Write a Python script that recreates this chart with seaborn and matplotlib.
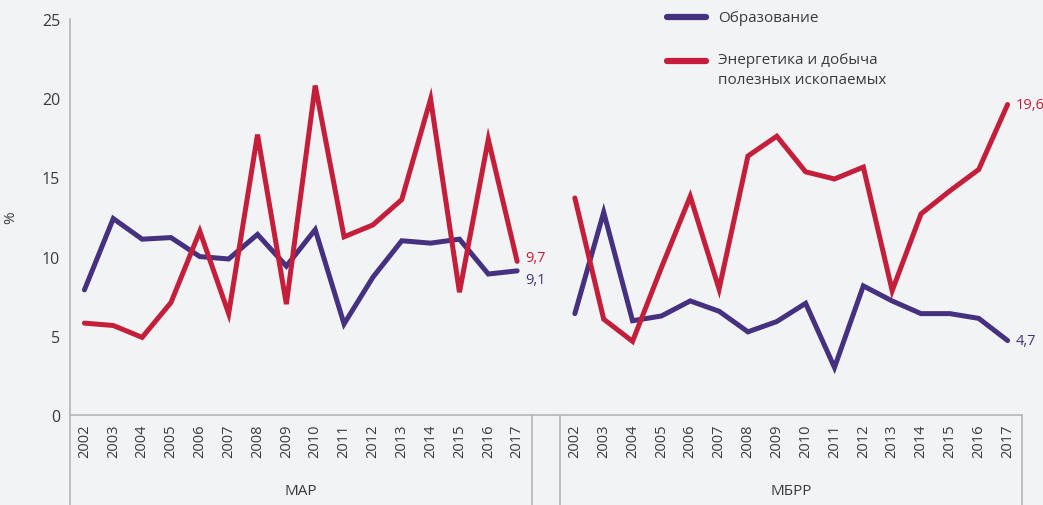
import matplotlib
matplotlib.use("Agg")
import matplotlib.pyplot as plt
import matplotlib.transforms as mtransforms
from matplotlib.lines import Line2D
import seaborn as sns
import pandas as pd

years = [str(y) for y in range(2002, 2018)]
groups = ["МАР", "МБРР"]
series_names = ["Образование", "Энергетика и добыча\nполезных ископаемых"]

mar_edu = [7.9, 12.4, 11.1, 11.2, 10.0, 9.85, 11.4, 9.4, 11.7, 5.75, 8.7, 11.0, 10.85, 11.1, 8.9, 9.1]
mar_energy = [5.8, 5.65, 4.9, 7.1, 11.6, 6.4, 17.7, 7.0, 20.8, 11.25, 12.0, 13.6, 19.95, 7.75, 17.4, 9.7]
ibrd_edu = [6.4, 12.8, 5.95, 6.25, 7.2, 6.55, 5.25, 5.9, 7.05, 3.0, 8.15, 7.2, 6.4, 6.4, 6.1, 4.7]
ibrd_energy = [13.7, 6.05, 4.65, 9.3, 13.8, 7.95, 16.35, 17.6, 15.35, 14.9, 15.65, 7.85, 12.7, 14.15, 15.5, 19.6]

end_labels = {"МАР": ["9,1", "9,7"], "МБРР": ["4,7", "19,6"]}

purple = "#45317f"
red = "#c41e3a"
bg = "#f2f3f5"
txt = "#3a3a3a"
grey = "#b5b5b5"

sns.set_theme(style="white")
plt.rcParams['font.family'] = ['Open Sans', 'DejaVu Sans']

rows = []
data = {"МАР": [mar_edu, mar_energy], "МБРР": [ibrd_edu, ibrd_energy]}
for gi, g in enumerate(groups):
    for si, s in enumerate(series_names):
        for yi, yv in enumerate(years):
            rows.append({"group": g, "series": s, "year": yv,
                         "pos": gi * (len(years) + 1) + yi, "value": data[g][si][yi]})
df = pd.DataFrame(rows)

fig = plt.figure(figsize=(10.43, 5.06), dpi=100, facecolor=bg)
ax = fig.add_axes([70 / 1043, 90 / 506, (1022 - 70) / 1043, (416 - 20) / 506])
ax.set_facecolor(bg)

palette = {series_names[0]: purple, series_names[1]: red}
for gi, g in enumerate(groups):
    sub = df[df["group"] == g]
    sns.lineplot(data=sub, x="pos", y="value", hue="series", palette=palette,
                 linewidth=3.6, ax=ax, legend=False, solid_capstyle="round",
                 solid_joinstyle="miter")
    last = sub[sub["year"] == years[-1]]
    for si, s in enumerate(series_names):
        r = last[last["series"] == s].iloc[0]
        dy = 0
        if g == "МАР":
            dy = -6 if si == 0 else 3
        ax.annotate(end_labels[g][si], (r["pos"], r["value"]), xytext=(5.5, dy),
                    textcoords="offset points", va="center", ha="left",
                    color=palette[s], fontsize=10.5)

positions = list(range(len(years))) + [len(years) + 1 + i for i in range(len(years))]
ax.set_xticks(positions)
ax.set_xticklabels(years + years, rotation=90, fontsize=10.5, color=txt)
ax.set_xlim(-0.5, 2 * len(years) + 0.5)
ax.set_ylim(0, 25)
ax.set_yticks([0, 5, 10, 15, 20, 25])
ax.set_yticklabels(["0", "5", "10", "15", "20", "25"], fontsize=11.5, color=txt)
ax.set_xlabel("")
ax.set_ylabel("%", fontsize=11, color=txt)
ax.yaxis.set_label_coords(-52 / 952, 0.5)
ax.tick_params(axis="y", length=4, color=grey, width=1, pad=3)
ax.tick_params(axis="x", length=0, pad=6)
for side in ["top", "right"]:
    ax.spines[side].set_visible(False)
for side in ["left", "bottom"]:
    ax.spines[side].set_color(grey)
    ax.spines[side].set_linewidth(1.2)

trans = mtransforms.blended_transform_factory(ax.transData, ax.transAxes)
for xv in [-0.5, len(years) - 0.5, len(years) + 0.5, 2 * len(years) + 0.5]:
    ax.plot([xv, xv], [0, -0.23], transform=trans, color=grey, lw=1.2, clip_on=False)
for gi, g in enumerate(groups):
    center = gi * (len(years) + 1) + (len(years) - 1) / 2
    ax.text(center, -0.19, g, transform=trans, ha="center", va="center",
            fontsize=11, color=txt)

# legend (drawn in figure fraction coordinates)
W, H = 1043, 506
legend_rows = [(series_names[0], purple, 18), (series_names[1], red, 62)]
for label, col, ypix in legend_rows:
    yf = 1 - ypix / H
    fig.add_artist(Line2D([667 / W, 706 / W], [yf, yf], transform=fig.transFigure,
                          color=col, lw=4.5, solid_capstyle="round"))
    fig.text(718 / W, yf, label, ha="left", va="top" if "\n" in label else "center",
             fontsize=11, color=txt, linespacing=1.45,
             transform=fig.transFigure)
fig.texts[-1].set_y(1 - 53 / H)

fig.savefig("out.png", dpi=100, facecolor=bg)
